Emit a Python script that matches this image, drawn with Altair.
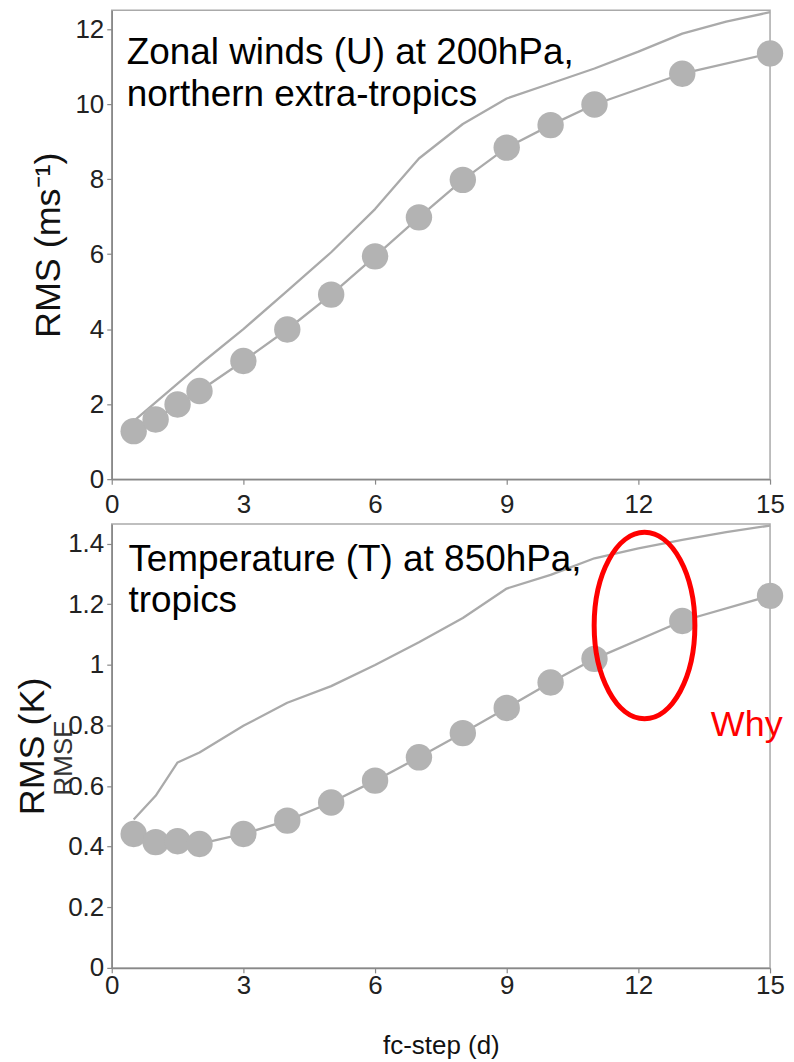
import altair as alt
import pandas as pd

FONT = "Liberation Sans"

# ---------------- data ----------------
steps_line = [0.5, 1, 1.5, 2, 3, 4, 5, 6, 7, 8, 9, 10, 11, 12, 13, 14, 15]
steps_pts = [0.5, 1, 1.5, 2, 3, 4, 5, 6, 7, 8, 9, 10, 11, 13, 15]

# Zonal winds (U) at 200hPa, northern extra-tropics
u_ref = [1.55, 2.05, 2.55, 3.05, 4.0, 5.02, 6.05, 7.2, 8.55, 9.47, 10.15,
         10.55, 10.95, 11.4, 11.88, 12.2, 12.45]
u_exp = [1.28, 1.59, 1.99, 2.35, 3.15, 3.99, 4.92, 5.94, 6.98, 7.98, 8.84,
         9.44, 9.99, 10.81, 11.35]

# Temperature (T) at 850hPa, tropics
t_ref = [0.49, 0.568, 0.678, 0.711, 0.799, 0.875, 0.93, 1.0, 1.075, 1.155,
         1.252, 1.297, 1.352, 1.385, 1.413, 1.438, 1.46]
t_exp = [0.442, 0.415, 0.418, 0.409, 0.442, 0.486, 0.546, 0.618, 0.695,
         0.775, 0.858, 0.942, 1.02, 1.145, 1.228]

x_ticks = [0, 3, 6, 9, 12, 15]
u_ticks = [0, 2, 4, 6, 8, 10, 12]
t_ticks = [0, 0.2, 0.4, 0.6, 0.8, 1.0, 1.2, 1.4]

u_title_lines = ["Zonal winds (U) at 200hPa,", "northern extra-tropics"]
u_title_x = [0.34, 0.34]
u_title_y = [11.07, 9.95]
t_title_lines = ["Temperature (T) at 850hPa,", "tropics"]
t_title_x = [0.38, 0.38]
t_title_y = [1.309, 1.174]

why_text = ["Why"]
why_pos = [13.65, 0.766]
ellipse_pos = [12.14, 1.13]
rmse_text = ["RMSE"]
rmse_pos = [-1.09, 0.693]

GREY_LINE = "#aaaaaa"
GREY_PT = "#b3b3b3"
LABEL_SIZE = 26
W = 660

ELLIPSE = ("M 0 -1 C 0.298 -1 0.54 -0.5523 0.54 0 "
           "C 0.54 0.5523 0.298 1 0 1 "
           "C -0.298 1 -0.54 0.5523 -0.54 0 "
           "C -0.54 -0.5523 -0.298 -1 0 -1 Z")

AXIS_STYLE = dict(
    labelFont=FONT, titleFont=FONT, labelFontSize=LABEL_SIZE,
    labelColor="#222222", titleColor="#111111", titleFontWeight="normal",
    domainColor="#888888", tickColor="#888888", tickSize=5, domainWidth=1.5,
    tickWidth=1.2, grid=False,
)


def panel(ref_y, exp_y, ydomain, yticks, ytitle, ytitle_pad, lines, lx, ly,
          xtitle, xlabel_pad, w, h, extras=None):
    ref_df = pd.DataFrame({"step": steps_line, "rms": ref_y})
    exp_df = pd.DataFrame({"step": steps_pts, "rms": exp_y})
    xs = alt.Scale(domain=[0, 15], nice=False, zero=False)
    ys = alt.Scale(domain=ydomain, nice=False, zero=False)
    if xtitle:
        xax = alt.Axis(values=x_ticks, title=xtitle, titleFontSize=26,
                       titlePadding=34, labelPadding=xlabel_pad,
                       labelFlush=False, **AXIS_STYLE)
    else:
        xax = alt.Axis(values=x_ticks, title=None, labelPadding=xlabel_pad,
                       labelFlush=False, **AXIS_STYLE)
    yax = alt.Axis(values=yticks, format="~g", title=ytitle, titleFontSize=36,
                   titlePadding=ytitle_pad, labelPadding=3, **AXIS_STYLE)

    ref_line = alt.Chart(ref_df).mark_line(
        color=GREY_LINE, strokeWidth=2.3, strokeJoin="round"
    ).encode(
        x=alt.X("step:Q", scale=xs, axis=xax),
        y=alt.Y("rms:Q", scale=ys, axis=yax),
    )
    exp_line = alt.Chart(exp_df).mark_line(
        color=GREY_LINE, strokeWidth=2.3, strokeJoin="round"
    ).encode(x=alt.X("step:Q", scale=xs), y=alt.Y("rms:Q", scale=ys))
    exp_pts = alt.Chart(exp_df).mark_circle(color=GREY_PT, opacity=1, size=700).encode(
        x=alt.X("step:Q", scale=xs), y=alt.Y("rms:Q", scale=ys))
    tdf = pd.DataFrame({"x": lx, "y": ly, "t": lines})
    ttl = alt.Chart(tdf).mark_text(
        align="left", baseline="alphabetic", fontSize=37, font=FONT,
        color="#000000",
    ).encode(x=alt.X("x:Q", scale=xs), y=alt.Y("y:Q", scale=ys), text="t:N")
    layers = [ref_line, exp_line, exp_pts, ttl]
    if extras:
        layers += extras(xs, ys)
    return alt.layer(*layers).properties(width=w, height=h)


def bottom_extras(xs, ys):
    edf = pd.DataFrame({"x": [ellipse_pos[0]], "y": [ellipse_pos[1]]})
    ell = alt.Chart(edf).mark_point(
        shape=ELLIPSE, filled=False, stroke="#ff0000", strokeWidth=5,
        size=34969, opacity=1,
    ).encode(x=alt.X("x:Q", scale=xs), y=alt.Y("y:Q", scale=ys))
    wdf = pd.DataFrame({"x": [why_pos[0]], "y": [why_pos[1]], "t": why_text})
    why = alt.Chart(wdf).mark_text(
        align="left", baseline="alphabetic", fontSize=36, font=FONT,
        color="#ff0000",
    ).encode(x=alt.X("x:Q", scale=xs), y=alt.Y("y:Q", scale=ys), text="t:N")
    rdf = pd.DataFrame({"x": [rmse_pos[0]], "y": [rmse_pos[1]], "t": rmse_text})
    rmse = alt.Chart(rdf).mark_text(
        align="center", baseline="middle", fontSize=26, font=FONT,
        color="#333333", angle=270,
    ).encode(x=alt.X("x:Q", scale=xs), y=alt.Y("y:Q", scale=ys), text="t:N")
    return [ell, why, rmse]


top = panel(u_ref, u_exp, [0, 12.5], u_ticks, "RMS (ms⁻¹)", 7, u_title_lines,
            u_title_x, u_title_y, None, 7, W, 470)
bottom = panel(t_ref, t_exp, [0, 1.465], t_ticks, "RMS (K)", 16, t_title_lines,
               t_title_x, t_title_y, "fc-step (d)", 0, W, 445, bottom_extras)

chart = alt.vconcat(top, bottom, spacing=45, bounds="flush").properties(
    padding={"left": 6, "top": 0, "right": 0, "bottom": 0}
).configure_view(stroke="#aaaaaa", strokeWidth=1.5)

chart.save("out.html", embed_options={"renderer": "svg", "actions": False})
